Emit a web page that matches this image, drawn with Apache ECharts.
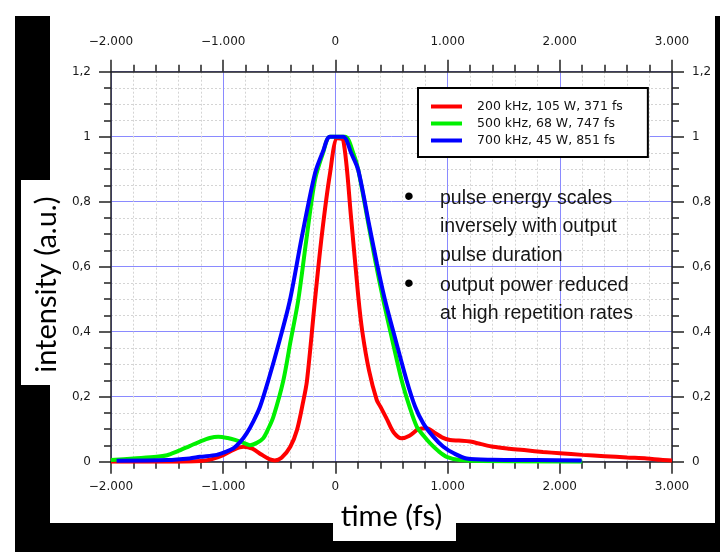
<!DOCTYPE html>
<html><head><meta charset="utf-8">
<script src="https://cdn.jsdelivr.net/npm/echarts@6/dist/echarts.min.js"></script>
<style>
html,body{margin:0;padding:0;background:#fff;width:720px;height:552px;overflow:hidden}
.bg{position:absolute}
#chart{position:absolute;left:0;top:0;width:720px;height:552px}
</style></head><body>
<div class="bg" style="left:15px;top:16px;width:705px;height:536px;background:#000"></div>
<div class="bg" style="left:50px;top:0;width:665px;height:523px;background:#fff"></div>
<div class="bg" style="left:21px;top:180px;width:30px;height:205px;background:#fff"></div>
<div class="bg" style="left:333px;top:520px;width:123px;height:21px;background:#fff"></div>
<div id="chart"></div>
<script>
const seriesNames = ['200 kHz, 105 W, 371 fs', '500 kHz, 68 W, 747 fs', '700 kHz, 45 W, 851 fs'];
const seriesColors = ['#ff0000', '#00f000', '#0000ff'];
const xTicks = [-2000, -1000, 0, 1000, 2000, 3000];
const yTicks = [0, 0.2, 0.4, 0.6, 0.8, 1, 1.2];

// [time (fs), intensity (a.u.)]
const red200 = [[-2000,0],[-1400,0],[-1200,0.002],[-1100,0.008],[-1000,0.02],[-900,0.038],[-820,0.046],[-740,0.04],[-660,0.022],[-590,0.008],[-540,0.004],[-480,0.012],[-402,0.046],[-342,0.098],[-290,0.18],[-253,0.25],[-182,0.4975],[-120,0.7],[-48,0.887],[17,0.995],[70,0.99],[140,0.75],[204,0.508],[240,0.4],[300,0.28],[368,0.19],[400,0.17],[460,0.13],[520,0.09],[590,0.072],[660,0.08],[740,0.1],[814,0.103],[880,0.09],[950,0.075],[1021,0.067],[1100,0.065],[1200,0.062],[1300,0.054],[1407,0.046],[1550,0.04],[1700,0.035],[1850,0.03],[2001,0.026],[2200,0.021],[2400,0.017],[2600,0.013],[2775,0.01],[2900,0.006],[3000,0.004]];
const green500 = [[-2000,0.005],[-1800,0.01],[-1593,0.015],[-1500,0.02],[-1414,0.031],[-1300,0.048],[-1207,0.062],[-1120,0.073],[-1044,0.077],[-960,0.073],[-895,0.067],[-820,0.058],[-761,0.051],[-700,0.058],[-643,0.072],[-600,0.1],[-553,0.138],[-464,0.25],[-400,0.37],[-331,0.4975],[-260,0.68],[-182,0.867],[-110,0.95],[-48,1.0],[86,1.0],[160,0.949],[204,0.897],[300,0.72],[360,0.61],[427,0.4975],[510,0.37],[591,0.25],[660,0.17],[725,0.108],[790,0.078],[843,0.057],[920,0.032],[992,0.015],[1111,0.005],[1300,0.002],[2200,0]];
const blue700 = [[-1950,0.003],[-1500,0.005],[-1300,0.01],[-1207,0.015],[-1058,0.021],[-980,0.03],[-910,0.041],[-850,0.06],[-791,0.087],[-730,0.125],[-672,0.169],[-598,0.25],[-500,0.37],[-405,0.4975],[-300,0.69],[-182,0.887],[-110,0.955],[-48,1.0],[70,1.0],[140,0.95],[204,0.897],[300,0.73],[370,0.61],[442,0.4975],[540,0.37],[635,0.25],[710,0.17],[783,0.118],[870,0.078],[962,0.046],[1060,0.025],[1170,0.01],[1400,0.006],[1800,0.005],[2195,0.004]];
const seriesData = [red200, green500, blue700];

const notes1 = ['pulse energy scales', 'inversely with output', 'pulse duration'];
const notes2 = ['output power reduced', 'at high repetition rates'];

const xFmt = v => v === 0 ? '0' : (v < 0 ? '\u2212' : '') + Math.abs(v / 1000) + '.000';
const yFmt = v => String(Math.round(v * 10) / 10).replace('.', ',');

const tickFont = {fontFamily: 'DejaVu Sans', fontSize: 12, color: '#1a1a1a'};
const axisLine = {show: true, onZero: false, lineStyle: {color: '#222', width: 1.5}};
const axisTick = {show: true, length: 12, lineStyle: {color: '#222', width: 1.5}};
const minorTickX = {show: true, splitNumber: 5, length: 7, lineStyle: {color: '#222', width: 1.5}};
const minorTickY = {show: true, splitNumber: 4, length: 7, lineStyle: {color: '#222', width: 1.5}};
const majorGrid = {show: true, lineStyle: {color: '#8a8aff', width: 1}};
const minorGrid = {show: true, lineStyle: {color: '#d4d4d4', width: 1, type: [2, 2]}};
const titleFont = {fontFamily: 'Lato', fontSize: 29, color: '#000'};

const chart = echarts.init(document.getElementById('chart'));
chart.setOption({
  animation: false,
  backgroundColor: 'transparent',
  grid: {left: 111, right: 48, top: 71.7, bottom: 90.3, containLabel: false},
  xAxis: [
    {type: 'value', position: 'bottom', min: xTicks[0], max: xTicks[xTicks.length - 1], interval: 1000,
     name: 'time (fs)', nameLocation: 'middle', nameGap: 40, nameTextStyle: titleFont,
     axisLine, axisTick, minorTick: minorTickX, splitLine: majorGrid, minorSplitLine: minorGrid,
     axisLabel: Object.assign({margin: 19, formatter: xFmt}, tickFont)},
    {type: 'value', position: 'top', min: xTicks[0], max: xTicks[xTicks.length - 1], interval: 1000,
     axisLine, axisTick, minorTick: minorTickX, splitLine: {show: false}, minorSplitLine: {show: false},
     axisLabel: Object.assign({margin: 24, formatter: xFmt}, tickFont)}
  ],
  yAxis: [
    {type: 'value', position: 'left', min: yTicks[0], max: yTicks[yTicks.length - 1], interval: 0.2,
     name: 'intensity (a.u.)', nameLocation: 'middle', nameGap: 50,
     nameTextStyle: Object.assign({padding: [0, 36, 0, 0]}, titleFont),
     axisLine, axisTick, minorTick: minorTickY, splitLine: majorGrid, minorSplitLine: minorGrid,
     axisLabel: Object.assign({margin: 20, formatter: yFmt}, tickFont)},
    {type: 'value', position: 'right', min: yTicks[0], max: yTicks[yTicks.length - 1], interval: 0.2,
     axisLine, axisTick, minorTick: minorTickY, splitLine: {show: false}, minorSplitLine: {show: false},
     axisLabel: Object.assign({margin: 20, formatter: yFmt}, tickFont)}
  ],
  legend: {
    orient: 'vertical', left: 418, top: 88, backgroundColor: '#fff', borderColor: '#000', borderWidth: 2,
    padding: [10, 25, 8, 13], itemGap: 0, itemWidth: 31, itemHeight: 4, icon: 'rect',
    textStyle: {fontFamily: 'DejaVu Sans', fontSize: 12.5, color: '#111', lineHeight: 17, padding: [0, 0, 0, 10]},
    data: seriesNames
  },
  graphic: [
    {type: 'text', left: 404, top: 183, z: 10, style: {text: '\u2022', font: '28px "Liberation Sans"', fill: '#000'}},
    {type: 'text', left: 440, top: 184, z: 10, style: {text: notes1.join('\n'), font: '19.5px "Liberation Sans"', lineHeight: 28.5, fill: '#151515'}},
    {type: 'text', left: 404, top: 270, z: 10, style: {text: '\u2022', font: '28px "Liberation Sans"', fill: '#000'}},
    {type: 'text', left: 440, top: 271, z: 10, style: {text: notes2.join('\n'), font: '19.5px "Liberation Sans"', lineHeight: 28.5, fill: '#151515'}}
  ],
  series: seriesData.map((d, i) => ({
    name: seriesNames[i], type: 'line', data: d, xAxisIndex: 0, yAxisIndex: 0,
    showSymbol: false, smooth: 0.3, color: seriesColors[i],
    lineStyle: {width: 4, color: seriesColors[i]}, z: 3 + i
  }))
});
</script></body></html>
